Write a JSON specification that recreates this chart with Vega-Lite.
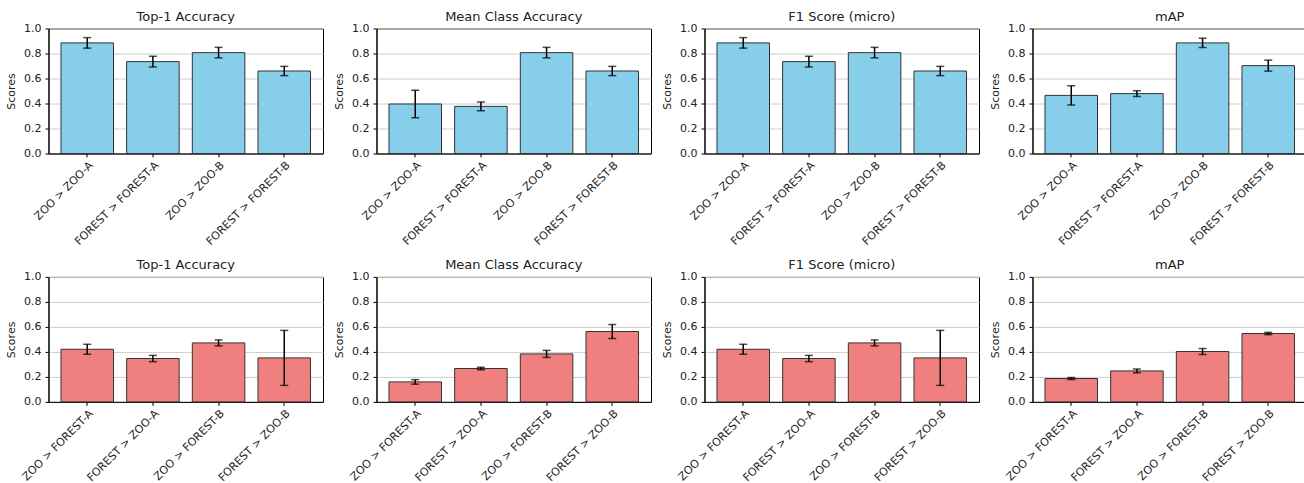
{
  "$schema": "https://vega.github.io/schema/vega-lite/v6.json",
  "padding": {"left": 4.5, "top": 9.5, "right": 0, "bottom": 0},
  "background": "white",
  "bounds": "flush",
  "config": {
    "font": "DejaVu Sans",
    "view": {"stroke": "black", "strokeWidth": 1},
    "axis": {"labelFont": "DejaVu Sans", "titleFont": "DejaVu Sans", "labelFontSize": 11, "titleFontSize": 11, "labelColor": "#222", "titleColor": "#222", "tickColor": "black", "domainColor": "black", "tickSize": 3.5, "labelPadding": 2, "titleFontWeight": "normal"},
    "header": {"labelFont": "DejaVu Sans", "labelFontSize": 13, "labelColor": "#222"}
  },
  "data": {"values": [
    {"panel": "1|Top-1 Accuracy", "group": "top", "pair": "ZOO > ZOO-A", "score": 0.885, "err": 0.042},
    {"panel": "1|Top-1 Accuracy", "group": "top", "pair": "FOREST > FOREST-A", "score": 0.735, "err": 0.043},
    {"panel": "1|Top-1 Accuracy", "group": "top", "pair": "ZOO > ZOO-B", "score": 0.807, "err": 0.042},
    {"panel": "1|Top-1 Accuracy", "group": "top", "pair": "FOREST > FOREST-B", "score": 0.660, "err": 0.037},
    {"panel": "2|Mean Class Accuracy", "group": "top", "pair": "ZOO > ZOO-A", "score": 0.396, "err": 0.11},
    {"panel": "2|Mean Class Accuracy", "group": "top", "pair": "FOREST > FOREST-A", "score": 0.377, "err": 0.035},
    {"panel": "2|Mean Class Accuracy", "group": "top", "pair": "ZOO > ZOO-B", "score": 0.807, "err": 0.042},
    {"panel": "2|Mean Class Accuracy", "group": "top", "pair": "FOREST > FOREST-B", "score": 0.660, "err": 0.037},
    {"panel": "3|F1 Score (micro)", "group": "top", "pair": "ZOO > ZOO-A", "score": 0.885, "err": 0.042},
    {"panel": "3|F1 Score (micro)", "group": "top", "pair": "FOREST > FOREST-A", "score": 0.735, "err": 0.043},
    {"panel": "3|F1 Score (micro)", "group": "top", "pair": "ZOO > ZOO-B", "score": 0.807, "err": 0.042},
    {"panel": "3|F1 Score (micro)", "group": "top", "pair": "FOREST > FOREST-B", "score": 0.660, "err": 0.037},
    {"panel": "4|mAP", "group": "top", "pair": "ZOO > ZOO-A", "score": 0.465, "err": 0.077},
    {"panel": "4|mAP", "group": "top", "pair": "FOREST > FOREST-A", "score": 0.479, "err": 0.023},
    {"panel": "4|mAP", "group": "top", "pair": "ZOO > ZOO-B", "score": 0.885, "err": 0.037},
    {"panel": "4|mAP", "group": "top", "pair": "FOREST > FOREST-B", "score": 0.703, "err": 0.044},
    {"panel": "5|Top-1 Accuracy", "group": "bottom", "pair": "ZOO > FOREST-A", "score": 0.421, "err": 0.04},
    {"panel": "5|Top-1 Accuracy", "group": "bottom", "pair": "FOREST > ZOO-A", "score": 0.347, "err": 0.025},
    {"panel": "5|Top-1 Accuracy", "group": "bottom", "pair": "ZOO > FOREST-B", "score": 0.472, "err": 0.024},
    {"panel": "5|Top-1 Accuracy", "group": "bottom", "pair": "FOREST > ZOO-B", "score": 0.352, "err": 0.22},
    {"panel": "6|Mean Class Accuracy", "group": "bottom", "pair": "ZOO > FOREST-A", "score": 0.160, "err": 0.018},
    {"panel": "6|Mean Class Accuracy", "group": "bottom", "pair": "FOREST > ZOO-A", "score": 0.267, "err": 0.01},
    {"panel": "6|Mean Class Accuracy", "group": "bottom", "pair": "ZOO > FOREST-B", "score": 0.384, "err": 0.028},
    {"panel": "6|Mean Class Accuracy", "group": "bottom", "pair": "FOREST > ZOO-B", "score": 0.563, "err": 0.056},
    {"panel": "7|F1 Score (micro)", "group": "bottom", "pair": "ZOO > FOREST-A", "score": 0.421, "err": 0.04},
    {"panel": "7|F1 Score (micro)", "group": "bottom", "pair": "FOREST > ZOO-A", "score": 0.347, "err": 0.025},
    {"panel": "7|F1 Score (micro)", "group": "bottom", "pair": "ZOO > FOREST-B", "score": 0.472, "err": 0.024},
    {"panel": "7|F1 Score (micro)", "group": "bottom", "pair": "FOREST > ZOO-B", "score": 0.352, "err": 0.22},
    {"panel": "8|mAP", "group": "bottom", "pair": "ZOO > FOREST-A", "score": 0.187, "err": 0.008},
    {"panel": "8|mAP", "group": "bottom", "pair": "FOREST > ZOO-A", "score": 0.248, "err": 0.015},
    {"panel": "8|mAP", "group": "bottom", "pair": "ZOO > FOREST-B", "score": 0.403, "err": 0.024},
    {"panel": "8|mAP", "group": "bottom", "pair": "FOREST > ZOO-B", "score": 0.547, "err": 0.009}
  ]},
  "columns": 4,
  "spacing": {"row": 123.4, "column": 53},
  "facet": {
    "field": "panel",
    "type": "nominal",
    "header": {"title": null, "labelExpr": "split(datum.value, '|')[1]", "labelPadding": -1}
  },
  "resolve": {"scale": {"x": "independent"}, "axis": {"x": "independent", "y": "independent"}},
  "spec": {
    "width": 274.5,
    "height": 125,
    "layer": [
      {
        "mark": {"type": "bar", "stroke": "#333333", "strokeWidth": 1},
        "encoding": {
          "x": {"field": "pair", "type": "nominal", "sort": null, "title": null,
                "scale": {"paddingInner": 0.2, "paddingOuter": 0.19},
                "axis": {"labelAngle": -45, "labelAlign": "right", "labelBaseline": "top", "grid": false}},
          "y": {"field": "score", "type": "quantitative", "title": "Scores",
                "scale": {"domain": [0, 1], "nice": false},
                "axis": {"values": [0, 0.2, 0.4, 0.6, 0.8, 1.0], "format": ".1f", "grid": true, "gridColor": "#cccccc", "gridWidth": 1, "labelPadding": 4, "titlePadding": 7, "labelOverlap": false}},
          "color": {"field": "group", "type": "nominal", "scale": {"domain": ["top", "bottom"], "range": ["#87CEEB", "#F08080"]}, "legend": null}
        }
      },
      {
        "mark": {"type": "errorbar", "color": "black", "thickness": 1.5, "ticks": {"size": 8, "thickness": 1.5, "color": "black"}},
        "encoding": {
          "x": {"field": "pair", "type": "nominal", "sort": null, "title": null},
          "y": {"field": "score", "type": "quantitative", "title": "Scores",
                "axis": {"values": [0, 0.2, 0.4, 0.6, 0.8, 1.0], "format": ".1f", "grid": true, "gridColor": "#cccccc", "gridWidth": 1, "labelPadding": 4, "titlePadding": 7, "labelOverlap": false}},
          "yError": {"field": "err"}
        }
      }
    ]
  }
}
